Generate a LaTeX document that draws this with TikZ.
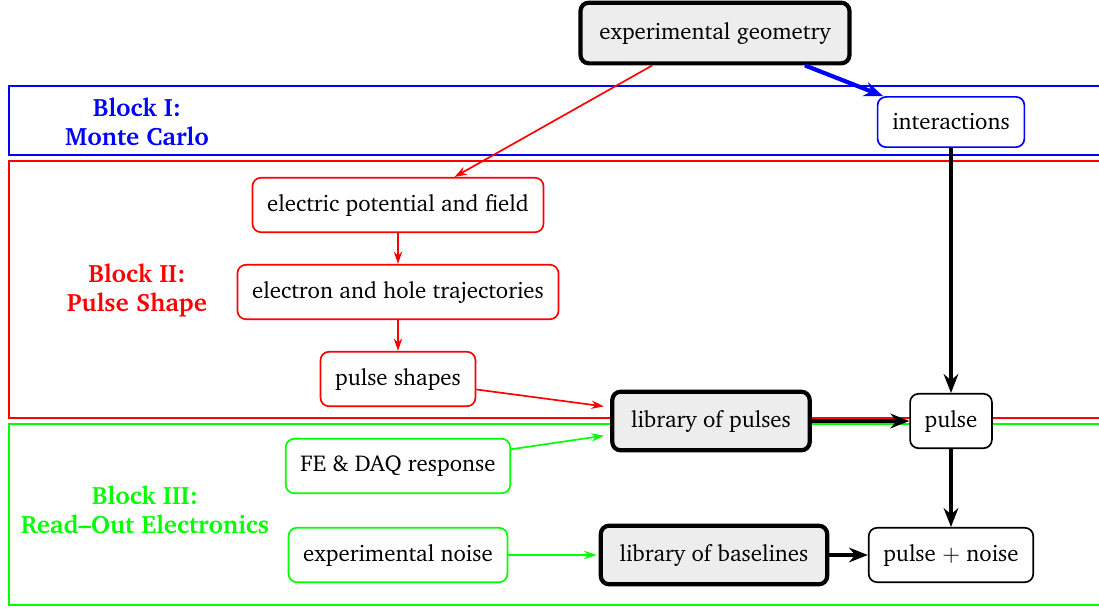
\documentclass[11pt,tikz,border=0pt]{standalone}
\usepackage[T1]{fontenc}
\usepackage{charter}
\usetikzlibrary{arrows.meta}

\begin{document}
\begin{tikzpicture}[x=0.0168cm,y=-0.0168cm,
  box/.style={draw,rounded corners=4pt,thick,fill=white,minimum height=26pt,inner xsep=7pt},
  lib/.style={box,line width=2pt,fill=black!7,minimum height=28pt,inner xsep=9pt},
  blk/.style={thick},
  blabel/.style={font=\large\bfseries,align=center},
  thinarr/.style={thick,-{Stealth[length=6pt,width=4pt]}},
  fatarr/.style={line width=2pt,-{Stealth[length=9pt,width=7pt]}}]
\useasboundingbox (0,0) rectangle (1099,608);
\draw[blk,blue] (9,86) rectangle (1110,155);
\draw[blk,red] (9,161) rectangle (1110,418);
\draw[blk,green] (9,424) rectangle (1110,605);
\node[blabel,blue] (b1) at (137,122) {Block I:\\Monte Carlo};
\node[blabel,red] (b2) at (137,290) {Block II:\\Pulse Shape};
\node[blabel,green] (b3) at (145,510) {Block III:\\Read--Out Electronics};
\node[lib,minimum height=29pt] (geom) at (715,33) {experimental geometry};
\node[box,draw=blue,minimum height=24pt] (inter) at (951,122) {interactions};
\node[box,draw=red] (efield) at (398,205) {electric potential and field};
\node[box,draw=red] (traj) at (398,292) {electron and hole trajectories};
\node[box,draw=red] (pshape) at (398,379) {pulse shapes};
\node[lib] (libp) at (711,421) {library of pulses};
\node[box] (pulse) at (951,421) {pulse};
\node[box,draw=green] (daq) at (398,466) {FE \& DAQ response};
\node[box,draw=green] (noise) at (398,555) {experimental noise};
\node[lib] (libb) at (714,555) {library of baselines};
\node[box] (pn) at (951,555) {pulse $+$ noise};
\draw[thinarr,red] ([xshift=-30pt]geom.south) -- ([xshift=27pt]efield.north);
\draw[fatarr,blue] ([xshift=43pt]geom.south) -- ([xshift=3pt]inter.north west);
\draw[thinarr,red] (efield) -- (traj);
\draw[thinarr,red] (traj) -- (pshape);
\draw[thinarr,red] ([yshift=-5pt]pshape.east) -- ([xshift=-3pt,yshift=7pt]libp.west);
\draw[thinarr,green] ([yshift=8pt]daq.east) -- ([xshift=-3pt,yshift=-7pt]libp.west);
\draw[thinarr,green] (noise) -- ([xshift=-1pt]libb.west);
\draw[fatarr] (inter) -- (pulse);
\draw[fatarr] (libp) -- (pulse);
\draw[fatarr] (pulse) -- (pn);
\draw[fatarr] (libb) -- (pn);
\end{tikzpicture}
\end{document}
